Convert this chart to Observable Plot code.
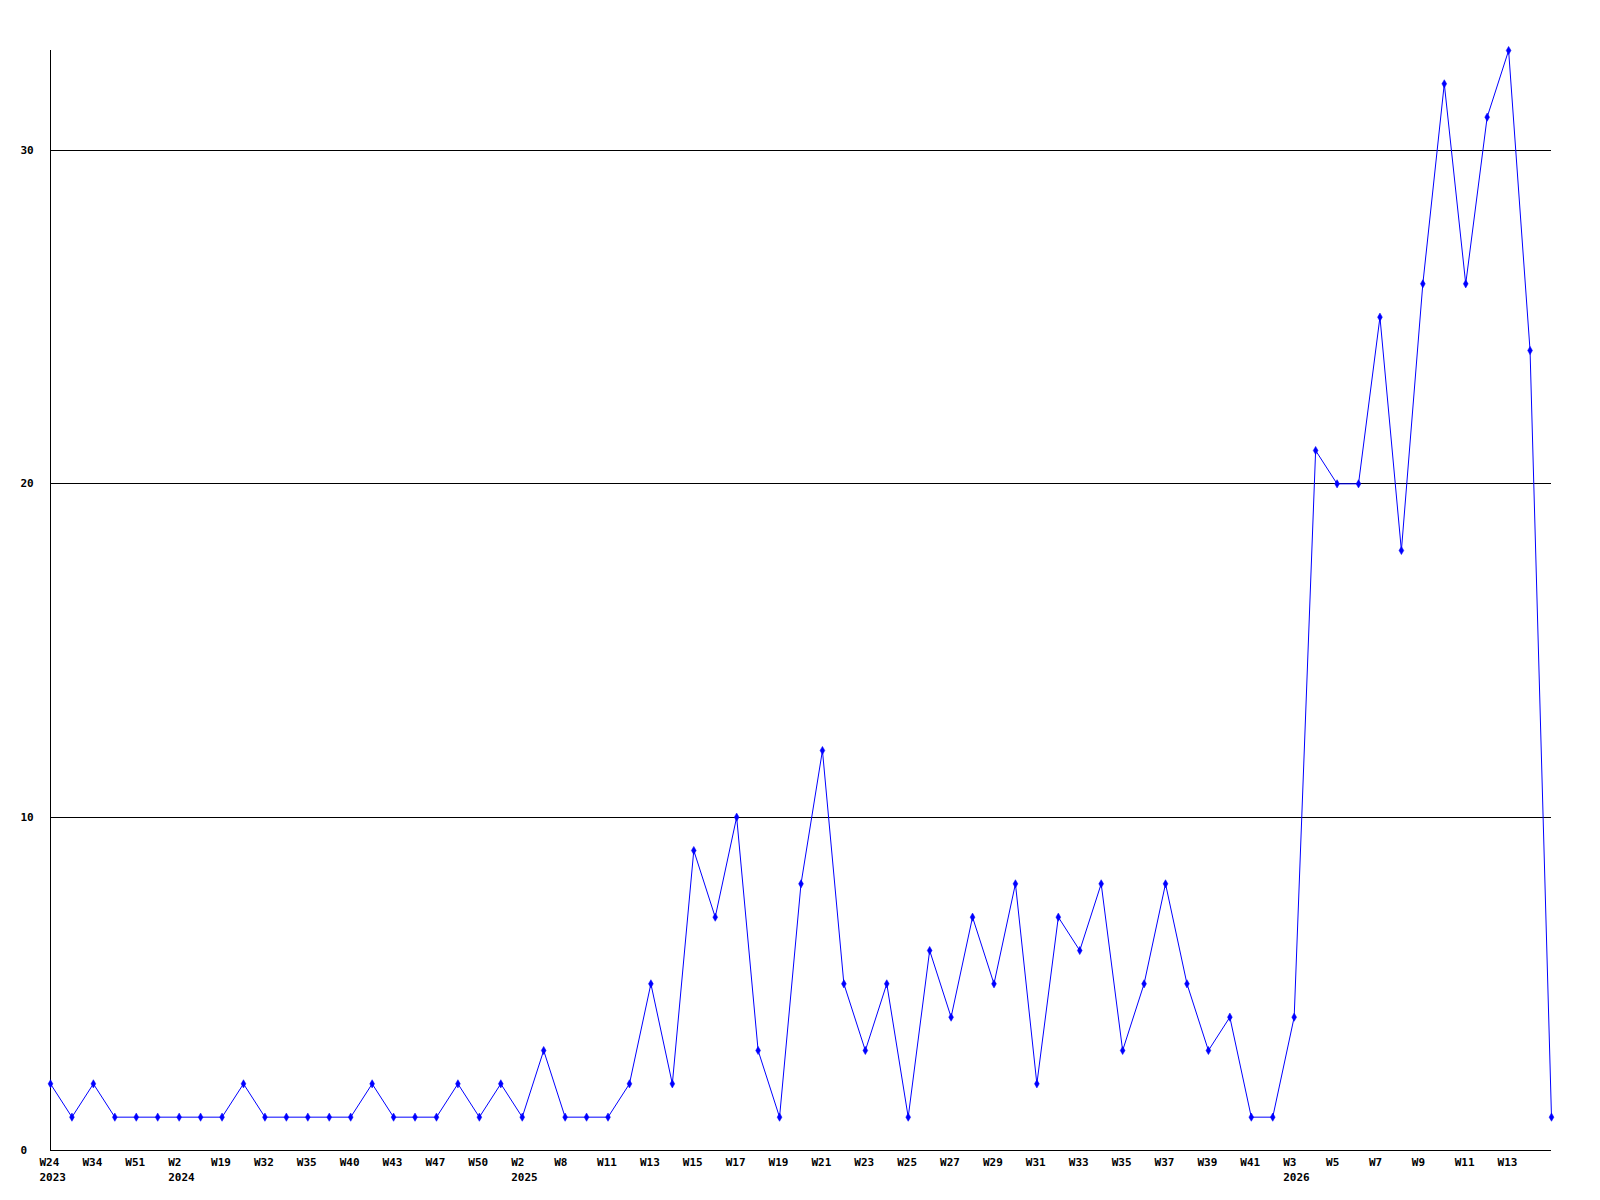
<!DOCTYPE html>
<html>
<head>
<meta charset="utf-8">
<script src="https://cdn.jsdelivr.net/npm/d3@7"></script>
<script src="https://cdn.jsdelivr.net/npm/@observablehq/plot@0.6"></script>
<style>
  html, body { margin: 0; padding: 0; background: #fff; }
  #chart svg { display: block; }
</style>
</head>
<body>
<div id="chart"></div>
<script>
const years = [
  2023,2023,2023,2023,2023,2023,
  2024,2024,2024,2024,2024,2024,2024,2024,2024,2024,2024,2024,2024,2024,2024,2024,
  2025,2025,2025,2025,2025,2025,2025,2025,2025,2025,2025,2025,2025,2025,2025,2025,2025,2025,
  2025,2025,2025,2025,2025,2025,2025,2025,2025,2025,2025,2025,2025,2025,2025,2025,2025,2025,
  2026,2026,2026,2026,2026,2026,2026,2026,2026,2026,2026,2026,2026
];
const weeks = [
  24,30,34,43,51,52,
  2,10,19,25,32,34,35,37,40,41,43,45,47,48,50,52,
  2,6,8,10,11,12,13,14,15,16,17,18,19,20,21,22,23,24,
  25,26,27,28,29,30,31,32,33,34,35,36,37,38,39,40,41,42,
  3,4,5,6,7,8,9,10,11,12,13,14,15
];
const values = [
  2,1,2,1,1,1,
  1,1,1,2,1,1,1,1,1,2,1,1,1,2,1,2,
  1,3,1,1,1,2,5,2,9,7,10,3,1,8,12,5,3,5,
  1,6,4,7,5,8,2,7,6,8,3,5,8,5,3,4,1,1,
  4,21,20,20,25,18,26,32,26,31,33,24,1
];
const yTicks = [0, 10, 20, 30];
const gridValues = [10, 20, 30];

const keys = years.map((y, i) => `${y}-W${weeks[i]}`);
const data = keys.map((k, i) => ({key: k, value: values[i]}));
const tickKeys = keys.filter((k, i) => i % 2 === 0 && i < keys.length - 1);

function xLabel(k) {
  const i = keys.indexOf(k);
  const ti = tickKeys.indexOf(k);
  const prevYear = ti > 0 ? years[keys.indexOf(tickKeys[ti - 1])] : null;
  const w = "W" + weeks[i];
  return years[i] !== prevYear ? w + "\n" + years[i] : w;
}

const chart = Plot.plot({
  width: 1600,
  height: 1200,
  marginLeft: 50,
  marginRight: 49,
  marginTop: 50,
  marginBottom: 50,
  style: {
    fontFamily: "'DejaVu Sans Mono', monospace",
    fontWeight: "bold",
    fontSize: "11px",
    color: "#000",
    background: "#fff"
  },
  x: {type: "point", domain: keys, padding: 0},
  y: {domain: [0, 33]},
  marks: [
    Plot.ruleY(gridValues, {stroke: "#000", strokeWidth: 1, shapeRendering: "crispEdges"}),
    Plot.ruleY([0], {stroke: "#000", strokeWidth: 1, shapeRendering: "crispEdges"}),
    Plot.ruleX([keys[0]], {stroke: "#000", strokeWidth: 1, shapeRendering: "crispEdges"}),
    Plot.axisX({
      ticks: tickKeys,
      tickFormat: xLabel,
      tickSize: 0,
      tickPadding: 5,
      textAnchor: "start",
      dx: -11,
      lineHeight: 1.36,
      label: null,
      fill: "#000"
    }),
    Plot.axisY({
      ticks: yTicks,
      tickFormat: d => String(d),
      tickSize: 0,
      tickPadding: 30,
      textAnchor: "start",
      label: null,
      fill: "#000"
    }),
    Plot.line(data, {x: "key", y: "value", stroke: "#0000ff", strokeWidth: 1}),
    Plot.dot(data, {x: "key", y: "value", symbol: "diamond", r: 2.5, fill: "#0000ff", stroke: "#0000ff", strokeWidth: 0.5})
  ]
});
document.getElementById("chart").appendChild(chart);
</script>
</body>
</html>
